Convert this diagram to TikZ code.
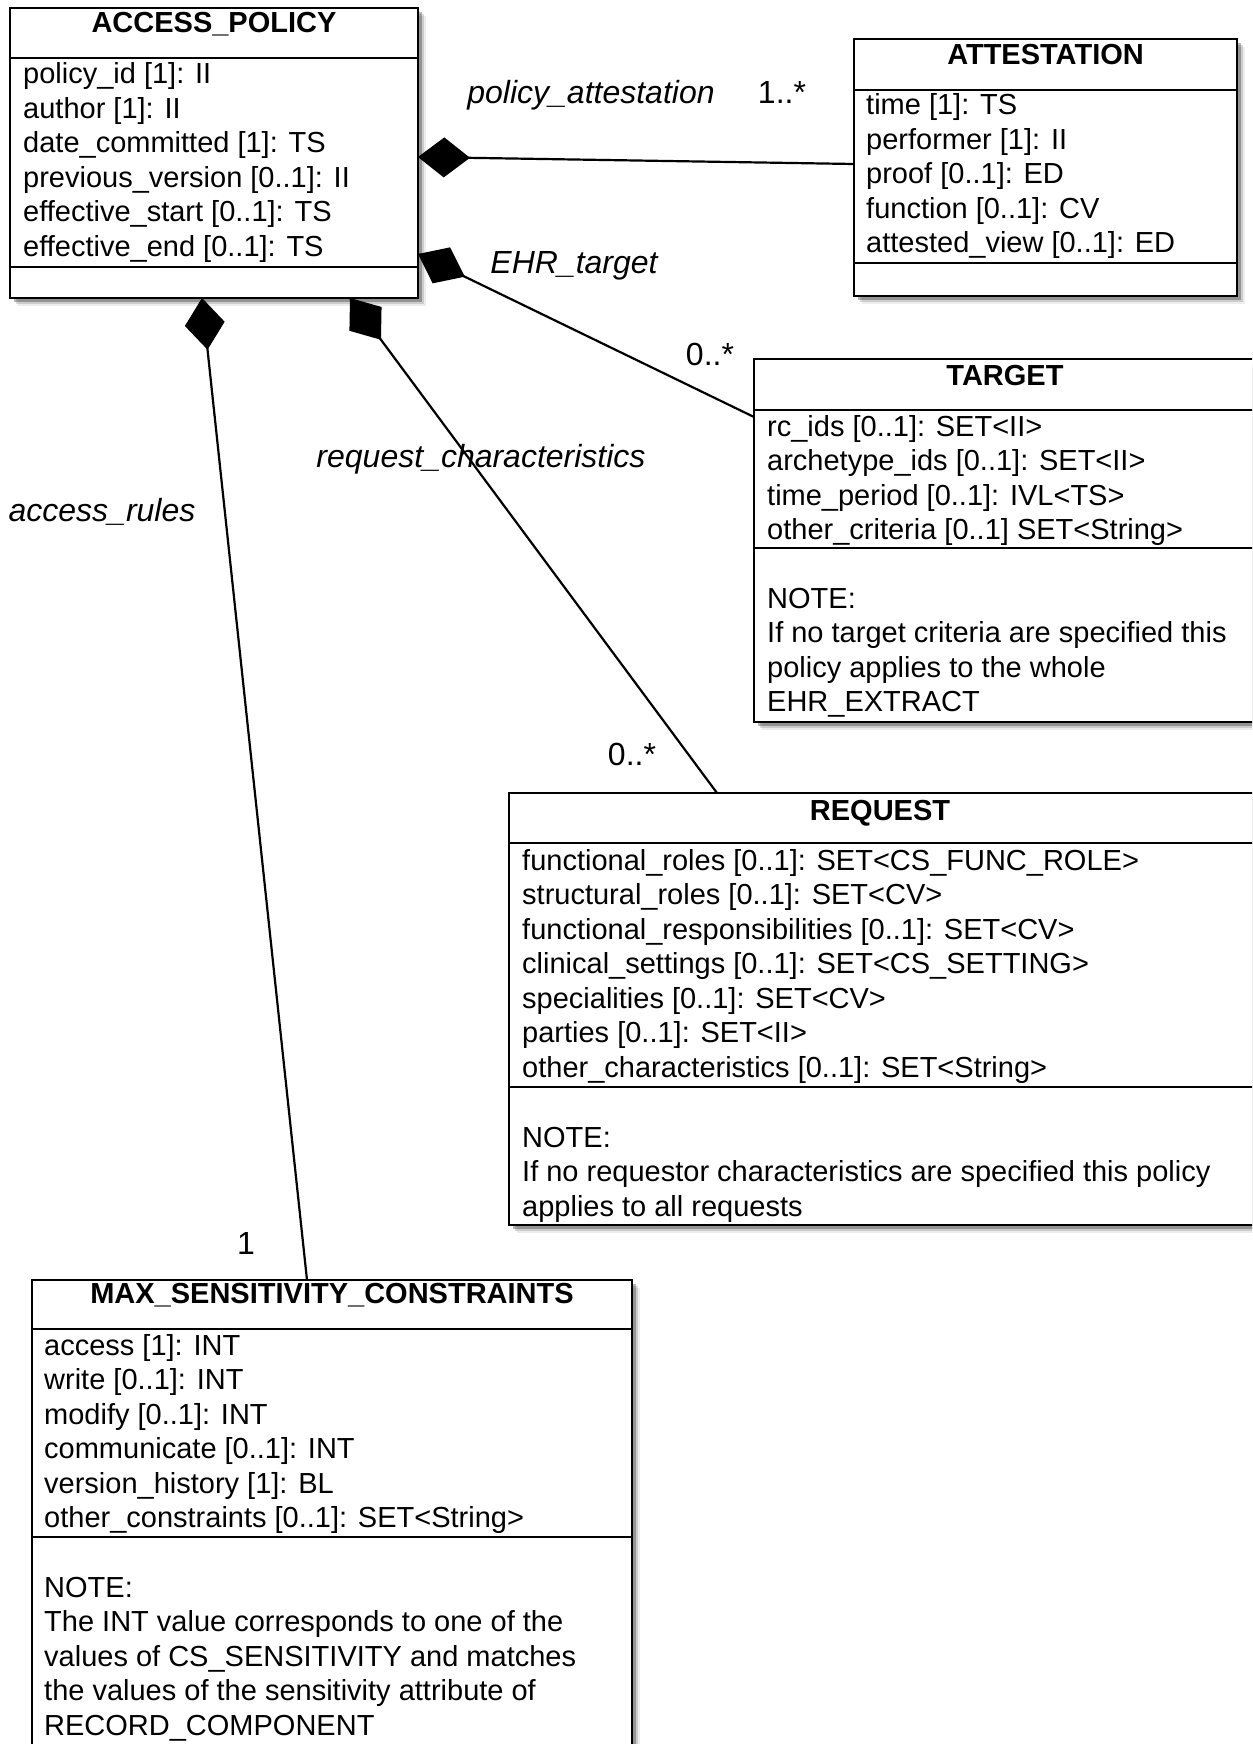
\documentclass[tikz,border=0pt]{standalone}
\usepackage{fontspec}
\setmainfont{Liberation Sans}
\usetikzlibrary{calc,shadows}
\tikzset{
  umlbox/.style={draw, line width=2.6pt, fill=white, rectangle, inner sep=0pt, outer sep=0pt, anchor=north west,
    drop shadow={shadow xshift=8pt,shadow yshift=-8pt,fill=black,opacity=0.07},
    drop shadow={shadow xshift=6pt,shadow yshift=-6pt,fill=black,opacity=0.14},
    drop shadow={shadow xshift=4pt,shadow yshift=-4pt,fill=black,opacity=0.28}},
  sepline/.style={line width=2.4pt},
  boxtitle/.style={font=\fontsize{29}{34.5}\bfseries\selectfont, anchor=base, inner sep=0pt},
  attr/.style={font=\fontsize{29}{34.5}\selectfont, anchor=base west, inner sep=0pt},
  role/.style={font=\fontsize{32}{38}\itshape\selectfont, anchor=base, inner sep=0pt},
  mult/.style={font=\fontsize{32}{38}\selectfont, anchor=base, inner sep=0pt},
  assoc/.style={line width=2.2pt},
}
\begin{document}
\begin{tikzpicture}[x=1pt,y=-1pt]
\useasboundingbox (0,0) rectangle (1252,1744);
\clip (0,0) rectangle (1252,1744);

% ---------- ACCESS_POLICY ----------
\node[umlbox, minimum width=408pt, minimum height=290pt] (ap) at (10,8) {};
\draw[sepline] (ap.west |- 0,58) -- (ap.east |- 0,58);
\draw[sepline] (ap.west |- 0,267) -- (ap.east |- 0,267);
\node[boxtitle] (apt) at (ap.north |- 0,33) {ACCESS\_POLICY};
\foreach \t [count=\i from 0] in {policy\_id [1]: II, author [1]: II, date\_committed [1]: TS,
  previous\_version [0..1]: II, effective\_start [0..1]: TS, effective\_end [0..1]: TS}
  \node[attr] (apa\i) at (23, 84+34.5*\i) {\t};

% ---------- ATTESTATION ----------
\node[umlbox, minimum width=383pt, minimum height=257pt] (att) at (854,39) {};
\draw[sepline] (att.west |- 0,90) -- (att.east |- 0,90);
\draw[sepline] (att.west |- 0,263) -- (att.east |- 0,263);
\node[boxtitle] (attt) at (att.north |- 0,65) {ATTESTATION};
\foreach \t [count=\i from 0] in {time [1]: TS, performer [1]: II, proof [0..1]: ED,
  function [0..1]: CV, attested\_view [0..1]: ED}
  \node[attr] (atta\i) at (866, 115+34.5*\i) {\t};

% ---------- TARGET (runs past the right edge) ----------
\node[umlbox, minimum width=530pt, minimum height=363pt] (tgt) at (754,359) {};
\draw[sepline] (tgt.west |- 0,410) -- (tgt.east |- 0,410);
\draw[sepline] (tgt.west |- 0,548) -- (tgt.east |- 0,548);
\node[boxtitle] (tgtt) at (1005,385) {TARGET};
\foreach \t [count=\i from 0] in {rc\_ids [0..1]: SET<II>, archetype\_ids [0..1]: SET<II>,
  time\_period [0..1]: IVL<TS>, other\_criteria [0..1] SET<String>}
  \node[attr] (tgta\i) at (767, 436+34.5*\i) {\t};
\foreach \t [count=\i from 0] in {NOTE:, If no target criteria are specified this,
  policy applies to the whole, EHR\_EXTRACT}
  \node[attr] (tgtn\i) at (767, 608+34.5*\i) {\t};

% ---------- REQUEST (runs past the right edge) ----------
\node[umlbox, minimum width=775pt, minimum height=432pt] (req) at (509,793) {};
\draw[sepline] (req.west |- 0,843) -- (req.east |- 0,843);
\draw[sepline] (req.west |- 0,1087) -- (req.east |- 0,1087);
\node[boxtitle] (reqt) at (880,820) {REQUEST};
\foreach \t [count=\i from 0] in {functional\_roles [0..1]: SET<CS\_FUNC\_ROLE>,
  structural\_roles [0..1]: SET<CV>, functional\_responsibilities [0..1]: SET<CV>,
  clinical\_settings [0..1]: SET<CS\_SETTING>, specialities [0..1]: SET<CV>,
  parties [0..1]: SET<II>, other\_characteristics [0..1]: SET<String>}
  \node[attr] (reqa\i) at (522, 870+34.5*\i) {\t};
\foreach \t [count=\i from 0] in {NOTE:, If no requestor characteristics are specified this policy,
  applies to all requests}
  \node[attr] (reqn\i) at (522, 1147+34.5*\i) {\t};

% ---------- MAX_SENSITIVITY_CONSTRAINTS (runs past the bottom edge) ----------
\node[umlbox, minimum width=600pt, minimum height=520pt] (msc) at (32,1280) {};
\draw[sepline] (msc.west |- 0,1329) -- (msc.east |- 0,1329);
\draw[sepline] (msc.west |- 0,1537) -- (msc.east |- 0,1537);
\node[boxtitle] (msct) at (msc.north |- 0,1303) {MAX\_SENSITIVITY\_CONSTRAINTS};
\foreach \t [count=\i from 0] in {access [1]: INT, write [0..1]: INT, modify [0..1]: INT,
  communicate [0..1]: INT, version\_history [1]: BL, other\_constraints [0..1]: SET<String>}
  \node[attr] (msca\i) at (44, 1355+34.5*\i) {\t};
\foreach \t [count=\i from 0] in {NOTE:, The INT value corresponds to one of the,
  values of CS\_SENSITIVITY and matches, the values of the sensitivity attribute of,
  RECORD\_COMPONENT}
  \node[attr] (mscn\i) at (44, 1597+34.5*\i) {\t};

% ---------- connectors ----------
\coordinate (c1s) at (ap.east |- 0,157);
\coordinate (c1e) at (att.west |- 0,164);
\coordinate (c2s) at (ap.east |- 0,254);
\coordinate (c2e) at (tgt.west |- 0,417);
\coordinate (c3s) at (350,0 |- ap.south);
\coordinate (c3e) at (717,0 |- req.north);
\coordinate (c4s) at (202,0 |- ap.south);
\coordinate (c4e) at (307,0 |- msc.north);

\foreach \s/\e in {c1s/c1e, c2s/c2e, c3s/c3e, c4s/c4e} {
  \draw[assoc] (\s) -- (\e);
  \fill[black] (\s) -- ($(\s)!26pt!(\e)!20pt!90:(\e)$) -- ($(\s)!52pt!(\e)$)
     -- ($(\s)!26pt!(\e)!20pt!-90:(\e)$) -- cycle;
}

% ---------- labels ----------
\node[role] (l1) at (591,104) {policy\_attestation};
\node[mult] (m1) at (782,104) {1..*};
\node[role] (l2) at (574,273) {EHR\_target};
\node[mult] (m2) at (710,365) {0..*};
\node[role] (l3) at (481,467) {request\_characteristics};
\node[mult] (m3) at (632,765) {0..*};
\node[role] (l4) at (102,521) {access\_rules};
\node[mult] (m4) at (246,1254) {1};
\end{tikzpicture}
\end{document}
